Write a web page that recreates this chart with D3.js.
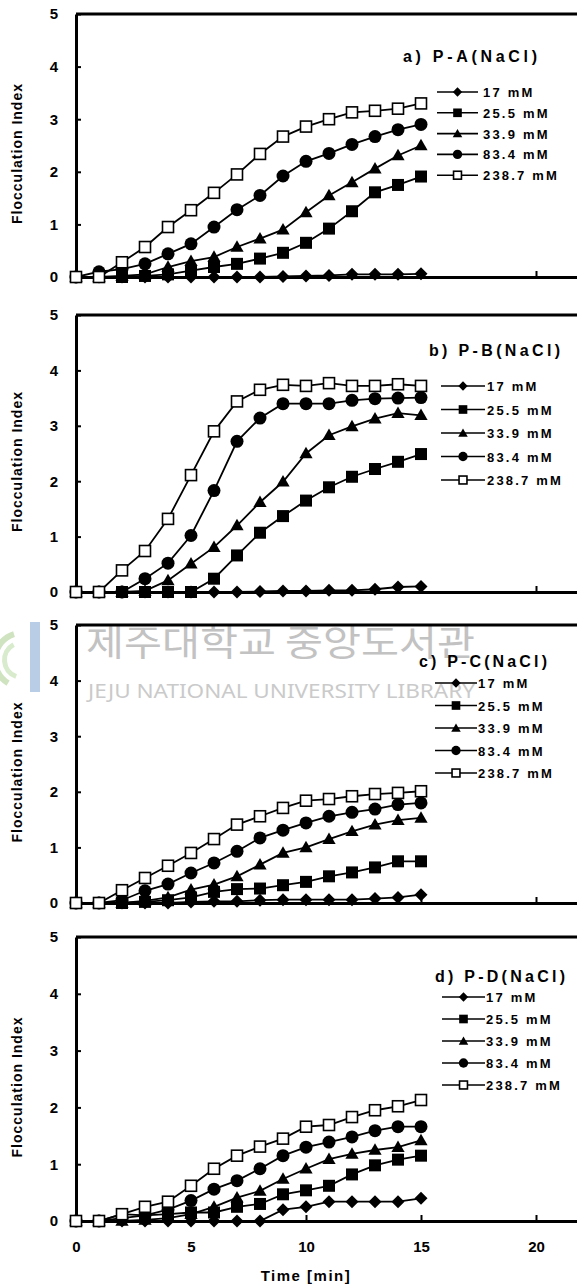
<!DOCTYPE html>
<html>
<head>
<meta charset="utf-8">
<script src="https://cdn.jsdelivr.net/npm/d3@7"></script>
<style>
  body { margin: 0; background: #fff; }
  text { font-family: "Liberation Sans", Arial, sans-serif; font-weight: bold; fill: #000; }
</style>
</head>
<body>
<script>
// time points (min)
const time = [0, 1, 2, 3, 4, 5, 6, 7, 8, 9, 10, 11, 12, 13, 14, 15];
const concLabels = ["17 mM", "25.5 mM", "33.9 mM", "83.4 mM", "238.7 mM"];
const xTicks = [0, 5, 10, 15, 20];
const yTicks = [0, 1, 2, 3, 4, 5];
const panelNames = ["a) P-A(NaCl)", "b) P-B(NaCl)", "c) P-C(NaCl)", "d) P-D(NaCl)"];

// a) P-A
const a17  = [0, 0, 0, 0, 0, 0, 0, 0, 0, 0.01, 0.02, 0.03, 0.05, 0.05, 0.05, 0.06];
const a25  = [0, 0, 0, 0.02, 0.05, 0.12, 0.19, 0.25, 0.35, 0.46, 0.65, 0.92, 1.25, 1.61, 1.75, 1.91];
const a33  = [0, 0, 0.02, 0.05, 0.19, 0.3, 0.38, 0.57, 0.73, 0.9, 1.23, 1.55, 1.8, 2.06, 2.31, 2.5];
const a83  = [0, 0.1, 0.15, 0.25, 0.44, 0.63, 0.95, 1.28, 1.55, 1.92, 2.2, 2.35, 2.52, 2.67, 2.8, 2.9];
const a238 = [0, 0, 0.28, 0.57, 0.95, 1.27, 1.6, 1.95, 2.34, 2.67, 2.86, 3.0, 3.13, 3.16, 3.2, 3.3];
// b) P-B
const b17  = [0, 0, 0, 0, 0, 0, 0, 0, 0.01, 0.02, 0.02, 0.03, 0.03, 0.05, 0.09, 0.1];
const b25  = [0, 0, 0, 0, 0, 0, 0.24, 0.66, 1.07, 1.37, 1.65, 1.89, 2.08, 2.22, 2.35, 2.49];
const b33  = [0, 0, 0, 0.02, 0.21, 0.51, 0.81, 1.2, 1.62, 1.99, 2.5, 2.83, 2.99, 3.13, 3.23, 3.19];
const b83  = [0, 0, 0, 0.24, 0.52, 1.02, 1.83, 2.72, 3.14, 3.4, 3.4, 3.4, 3.46, 3.49, 3.5, 3.51];
const b238 = [0, 0, 0.39, 0.74, 1.32, 2.11, 2.9, 3.44, 3.65, 3.74, 3.72, 3.77, 3.72, 3.72, 3.75, 3.72];
// c) P-C
const c17  = [0, 0, 0, 0, 0, 0.02, 0.03, 0.03, 0.05, 0.06, 0.06, 0.06, 0.06, 0.08, 0.1, 0.15];
const c25  = [0, 0, 0, 0.02, 0.05, 0.1, 0.2, 0.25, 0.26, 0.32, 0.38, 0.48, 0.55, 0.64, 0.75, 0.75];
const c33  = [0, 0, 0, 0.04, 0.1, 0.24, 0.33, 0.48, 0.69, 0.9, 1.0, 1.15, 1.29, 1.41, 1.49, 1.53];
const c83  = [0, 0, 0.05, 0.22, 0.34, 0.54, 0.72, 0.93, 1.17, 1.31, 1.44, 1.56, 1.63, 1.69, 1.77, 1.8];
const c238 = [0, 0, 0.23, 0.45, 0.67, 0.9, 1.15, 1.41, 1.56, 1.71, 1.84, 1.87, 1.92, 1.96, 1.98, 2.01];
// d) P-D
const d17  = [0, 0, 0, 0, 0, 0, 0, 0, 0, 0.2, 0.25, 0.34, 0.34, 0.34, 0.34, 0.4];
const d25  = [0, 0, 0.12, 0.1, 0.12, 0.15, 0.15, 0.25, 0.3, 0.47, 0.54, 0.62, 0.82, 0.98, 1.08, 1.15];
const d33  = [0, 0, 0, 0.02, 0.05, 0.12, 0.25, 0.41, 0.53, 0.74, 0.92, 1.09, 1.18, 1.25, 1.3, 1.42];
const d83  = [0, 0, 0.05, 0.1, 0.2, 0.36, 0.56, 0.71, 0.92, 1.15, 1.3, 1.39, 1.48, 1.59, 1.66, 1.66];
const d238 = [0, 0, 0.12, 0.25, 0.34, 0.62, 0.92, 1.15, 1.31, 1.45, 1.66, 1.69, 1.83, 1.95, 2.02, 2.13];

const panelSeries = [
  [a17, a25, a33, a83, a238],
  [b17, b25, b33, b83, b238],
  [c17, c25, c33, c83, c238],
  [d17, d25, d33, d83, d238]
];

const W = 577, H = 1287;
const left = 76;

// layout per panel: plot top/bottom, legend placement
const layout = [
  { top: 14,  bottom: 277,  tx: 403, ty: 62,  tw: 134, ly: 92,  ldy: 20.8, lx1: 437, lx2: 478, ltx: 483 },
  { top: 315, bottom: 592,  tx: 429, ty: 356, tw: 131, ly: 386, ldy: 23.5, lx1: 441, lx2: 485, ltx: 487 },
  { top: 625, bottom: 903,  tx: 419, ty: 667, tw: 128, ly: 683, ldy: 22.5, lx1: 435, lx2: 477, ltx: 478 },
  { top: 937, bottom: 1221, tx: 435, ty: 982, tw: 130, ly: 997, ldy: 22,   lx1: 442, lx2: 485, ltx: 486 }
];

const x = d3.scaleLinear().domain([0, 25]).range([left, left + 25 * 23]);

const svg = d3.select("body").append("svg")
  .attr("width", W)
  .attr("height", H);

// library watermark
const wm = svg.append("g").attr("class", "watermark");
wm.append("path")
  .attr("d", d3.arc()({ innerRadius: 24, outerRadius: 30, startAngle: -2.6, endAngle: -0.3 }))
  .attr("transform", "translate(22,660)")
  .attr("fill", "#cfe3c0");
wm.append("path")
  .attr("d", d3.arc()({ innerRadius: 15, outerRadius: 20, startAngle: -2.8, endAngle: -0.5 }))
  .attr("transform", "translate(22,660)")
  .attr("fill", "#d8ebcc");
wm.append("rect")
  .attr("x", 30).attr("y", 622).attr("width", 10).attr("height", 70)
  .attr("fill", "#b9cde6");
wm.append("text")
  .attr("x", 86).attr("y", 656)
  .attr("textLength", 389).attr("lengthAdjust", "spacingAndGlyphs")
  .style("font-family", "'Noto Sans CJK KR', sans-serif")
  .style("font-weight", "normal")
  .style("font-size", "36px")
  .style("fill", "#c2c2c2")
  .text("제주대학교 중앙도서관");
wm.append("text")
  .attr("x", 88).attr("y", 698)
  .attr("textLength", 387).attr("lengthAdjust", "spacingAndGlyphs")
  .style("font-family", "'Noto Sans', sans-serif")
  .style("font-weight", "normal")
  .style("font-size", "19px")
  .style("fill", "#cacaca")
  .text("JEJU NATIONAL UNIVERSITY LIBRARY");

// marker drawing helpers
function diamond(s) {
  const w = s / 2, h = s / 2;
  return `M0,${-h}L${w},0L0,${h}L${-w},0Z`;
}
function marker(g, k, cx, cy, big) {
  const s = big ? 1 : 0.72;
  if (k === 0) {
    g.append("path").attr("d", diamond(13 * s)).attr("transform", `translate(${cx},${cy})`).attr("fill", "#000");
  } else if (k === 1) {
    g.append("rect").attr("x", cx - 6 * s).attr("y", cy - 6 * s).attr("width", 12 * s).attr("height", 12 * s).attr("fill", "#000");
  } else if (k === 2) {
    g.append("path").attr("d", d3.symbol(d3.symbolTriangle, 76 * s * s)()).attr("transform", `translate(${cx},${cy + 1})`).attr("fill", "#000");
  } else if (k === 3) {
    g.append("circle").attr("cx", cx).attr("cy", cy).attr("r", 6.5 * s).attr("fill", "#000");
  } else {
    g.append("rect").attr("x", cx - 5.5 * s).attr("y", cy - 5.5 * s).attr("width", 11 * s).attr("height", 11 * s)
      .attr("fill", "#fff").attr("stroke", "#000").attr("stroke-width", 1.6);
  }
}

panelSeries.forEach((series, p) => {
  const L = layout[p];
  const y = d3.scaleLinear().domain([0, 5]).range([L.bottom, L.top]);
  const g = svg.append("g").attr("class", "panel-" + p);

  // top border
  g.append("line")
    .attr("x1", left).attr("x2", W)
    .attr("y1", y(5)).attr("y2", y(5))
    .attr("stroke", "#000").attr("stroke-width", 3);

  // y axis
  const yAxis = g.append("g")
    .attr("transform", `translate(${left},0)`)
    .call(d3.axisLeft(y).tickValues(yTicks).tickSize(-5).tickSizeOuter(0).tickPadding(18).tickFormat(d3.format("d")));
  yAxis.select(".domain").attr("stroke-width", 3);
  yAxis.selectAll(".tick line").attr("stroke-width", 2);
  yAxis.selectAll("text").style("font-size", "15px").attr("fill", "#000");

  // x axis
  const xAxis = g.append("g")
    .attr("transform", `translate(0,${L.bottom})`)
    .call(d3.axisBottom(x).tickValues(xTicks).tickSize(-6).tickSizeOuter(0).tickPadding(20)
      .tickFormat(p === 3 ? d3.format("d") : ""));
  xAxis.select(".domain").attr("stroke-width", 3);
  xAxis.selectAll(".tick line").attr("stroke-width", 2);
  xAxis.selectAll("text").style("font-size", "15px").attr("fill", "#000");

  // y title
  g.append("text")
    .attr("transform", `translate(22,${(L.top + L.bottom) / 2 + 8}) rotate(-90)`)
    .attr("text-anchor", "middle")
    .style("font-size", "14px")
    .style("letter-spacing", "1px")
    .text("Flocculation Index");

  // series
  const line = d3.line().x((d, i) => x(time[i])).y(d => y(d));
  series.forEach((vals, k) => {
    g.append("path")
      .datum(vals)
      .attr("d", line)
      .attr("fill", "none")
      .attr("stroke", "#000")
      .attr("stroke-width", 1.8);
  });
  series.forEach((vals, k) => {
    const mg = g.append("g");
    vals.forEach((v, i) => marker(mg, k, x(time[i]), y(v), true));
  });

  // legend
  g.append("text")
    .attr("x", L.tx).attr("y", L.ty)
    .attr("textLength", L.tw).attr("lengthAdjust", "spacing")
    .style("font-size", "16px")
    .text(panelNames[p]);
  concLabels.forEach((lab, k) => {
    const ly = L.ly + k * L.ldy;
    g.append("line")
      .attr("x1", L.lx1).attr("x2", L.lx2)
      .attr("y1", ly).attr("y2", ly)
      .attr("stroke", "#000").attr("stroke-width", 1.6);
    marker(g, k, (L.lx1 + L.lx2) / 2, ly, false);
    g.append("text")
      .attr("x", L.ltx).attr("y", ly + 5)
      .style("font-size", "13px")
      .style("letter-spacing", "2.2px")
      .text(lab);
  });
});

// x title
svg.append("text")
  .attr("x", x(10)).attr("y", 1281)
  .attr("text-anchor", "middle")
  .style("font-size", "15px")
  .style("letter-spacing", "1.5px")
  .text("Time [min]");
</script>
</body>
</html>
